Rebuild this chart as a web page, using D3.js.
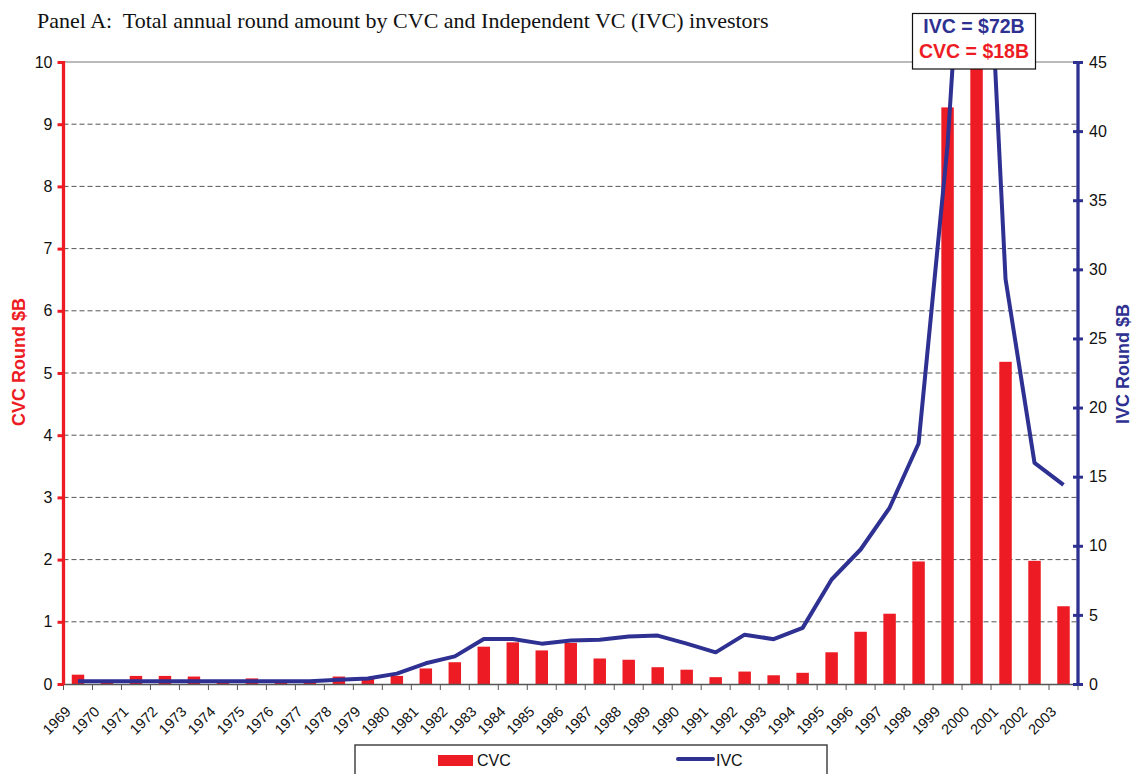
<!DOCTYPE html>
<html>
<head>
<meta charset="utf-8">
<script src="https://cdn.jsdelivr.net/npm/d3@7"></script>
<style>
  html, body { margin: 0; padding: 0; background: #fff; }
  svg { display: block; }
  text { white-space: pre; }
</style>
</head>
<body>
<svg id="chart" width="1134" height="774"></svg>
<script>
const years = ["1969","1970","1971","1972","1973","1974","1975","1976","1977","1978","1979","1980","1981","1982","1983","1984","1985","1986","1987","1988","1989","1990","1991","1992","1993","1994","1995","1996","1997","1998","1999","2000","2001","2002","2003"];
const cvcValues = [0.15,0.02,0.13,0.13,0.12,0.06,0.09,0.02,0.05,0.12,0.08,0.13,0.25,0.35,0.60,0.67,0.54,0.66,0.41,0.39,0.27,0.23,0.11,0.20,0.14,0.18,0.51,0.84,1.13,1.97,9.27,18,5.18,1.98,1.25];
const ivcValues = [0.2,0.2,0.2,0.2,0.2,0.2,0.2,0.2,0.2,0.3,0.4,0.75,1.5,2.0,3.26,3.26,2.92,3.14,3.2,3.43,3.5,2.92,2.29,3.57,3.24,4.06,7.56,9.73,12.75,17.4,39,72,29.3,16.0,14.4];
const cvcTicks = [0,1,2,3,4,5,6,7,8,9,10];
const ivcTicks = [0,5,10,15,20,25,30,35,40,45];
const titleText = "Panel A:  Total annual round amount by CVC and Independent VC (IVC) investors";
const noteLines = ["IVC = $72B", "CVC = $18B"];

const RED = "#ed1c24", NAVY = "#2e3192";
const SANS = "'Liberation Sans', Arial, sans-serif";
const L = 63.5, R = 1078, T = 62, B = 684;

const svg = d3.select("#chart");
const x = d3.scaleBand().domain(years).range([L, R]).paddingInner(0).paddingOuter(0);
const yL = d3.scaleLinear().domain([0, 10]).range([B, T]);
const yR = d3.scaleLinear().domain([0, 45]).range([B, T]);
const bw = x.bandwidth();

svg.append("defs").append("clipPath").attr("id", "plotclip")
  .append("rect").attr("x", L).attr("y", T).attr("width", R - L).attr("height", B - T);

// title
svg.append("text").attr("x", 37).attr("y", 28)
  .attr("font-family", "'Liberation Serif', 'Times New Roman', serif")
  .attr("font-size", 22).attr("fill", "#111").text(titleText);

// gridlines (dashed) + top solid
const gridG = svg.append("g");
gridG.selectAll("line.grid").data(cvcTicks.filter(t => t > 0 && t < 10)).join("line")
  .attr("x1", L).attr("x2", R).attr("y1", d => yL(d)).attr("y2", d => yL(d))
  .attr("stroke", "#555").attr("stroke-width", 1).attr("stroke-dasharray", "5,3");
gridG.append("line").attr("x1", L).attr("x2", R).attr("y1", yL(10)).attr("y2", yL(10))
  .attr("stroke", "#777").attr("stroke-width", 1.2);

// bars
const barW = bw * 0.43;
svg.append("g").attr("clip-path", "url(#plotclip)")
  .selectAll("rect").data(years).join("rect")
  .attr("x", (d) => x(d) + bw / 2 - barW / 2)
  .attr("width", barW)
  .attr("y", (d, i) => yL(Math.min(cvcValues[i], 10.5)))
  .attr("height", (d, i) => B - yL(Math.min(cvcValues[i], 10.5)))
  .attr("fill", RED);

// x axis baseline and ticks
const xAxis = d3.axisBottom(x).tickSize(0).tickFormat("");
const xg = svg.append("g").attr("transform", `translate(0,${B})`).call(xAxis);
xg.select(".domain").attr("stroke", "#555").attr("stroke-width", 1.5);
const bounds = years.map(y => x(y)).concat([R]);
svg.append("g").selectAll("line").data(bounds).join("line")
  .attr("x1", d => d).attr("x2", d => d).attr("y1", B).attr("y2", B + 6)
  .attr("stroke", "#555").attr("stroke-width", 1);
svg.append("g").selectAll("text").data(years).join("text")
  .attr("transform", d => `translate(${x(d) + bw / 2 - 10},${B + 25}) rotate(-45)`)
  .attr("text-anchor", "end").attr("dy", "0.35em")
  .attr("font-family", SANS).attr("font-size", 14.5)
  .attr("fill", "#111").text(d => d);

// IVC line
const line = d3.line().x((d, i) => x(years[i]) + bw / 2).y(d => yR(d));
svg.append("path").datum(ivcValues).attr("clip-path", "url(#plotclip)")
  .attr("d", line).attr("fill", "none").attr("stroke", NAVY)
  .attr("stroke-width", 4).attr("stroke-linejoin", "round");

// left axis
const yLAxis = d3.axisLeft(yL).tickValues(cvcTicks).tickSize(6).tickPadding(5).tickFormat(d3.format("d"));
const lg = svg.append("g").attr("transform", `translate(${L},0)`).call(yLAxis);
lg.select(".domain").remove();
lg.selectAll(".tick line").attr("stroke", RED).attr("stroke-width", 3);
lg.selectAll(".tick text").attr("font-family", SANS)
  .attr("font-size", 16).attr("fill", "#111");
svg.append("line").attr("x1", L).attr("x2", L).attr("y1", T - 1).attr("y2", B + 1)
  .attr("stroke", RED).attr("stroke-width", 3.3);

// right axis
const yRAxis = d3.axisRight(yR).tickValues(ivcTicks).tickSize(5).tickPadding(6);
const rg = svg.append("g").attr("transform", `translate(${R},0)`).call(yRAxis);
rg.select(".domain").remove();
rg.selectAll(".tick line").attr("x1", -5).attr("x2", 5).attr("stroke", NAVY).attr("stroke-width", 3);
rg.selectAll(".tick text").attr("font-family", SANS)
  .attr("font-size", 16).attr("fill", "#111");
svg.append("line").attr("x1", R).attr("x2", R).attr("y1", T - 1).attr("y2", B + 1)
  .attr("stroke", NAVY).attr("stroke-width", 3.3);

// axis titles
svg.append("text").attr("transform", `translate(25,362) rotate(-90)`)
  .attr("text-anchor", "middle").attr("font-family", SANS)
  .attr("font-weight", "bold").attr("font-size", 18).attr("fill", RED).text("CVC Round $B");
svg.append("text").attr("transform", `translate(1129,364) rotate(-90)`)
  .attr("text-anchor", "middle").attr("font-family", SANS)
  .attr("font-weight", "bold").attr("font-size", 18).attr("fill", NAVY).text("IVC Round $B");

// annotation box
svg.append("rect").attr("x", 912.5).attr("y", 13.5).attr("width", 123).attr("height", 55.5)
  .attr("fill", "#fff").attr("stroke", "#111").attr("stroke-width", 1.2);
svg.append("text").attr("x", 974).attr("y", 33).attr("text-anchor", "middle")
  .attr("font-family", SANS).attr("font-weight", "bold")
  .attr("font-size", 19.5).attr("fill", NAVY).text(noteLines[0]);
svg.append("text").attr("x", 974).attr("y", 58).attr("text-anchor", "middle")
  .attr("font-family", SANS).attr("font-weight", "bold")
  .attr("font-size", 19.5).attr("fill", RED).text(noteLines[1]);

// legend
svg.append("rect").attr("x", 355).attr("y", 745).attr("width", 472).attr("height", 40)
  .attr("fill", "#fff").attr("stroke", "#444").attr("stroke-width", 1.5);
svg.append("rect").attr("x", 438).attr("y", 755).attr("width", 35).attr("height", 11).attr("fill", RED);
svg.append("text").attr("x", 477).attr("y", 766)
  .attr("font-family", SANS).attr("font-size", 16)
  .attr("fill", "#111").text("CVC");
svg.append("line").attr("x1", 678).attr("x2", 713).attr("y1", 759).attr("y2", 759)
  .attr("stroke", NAVY).attr("stroke-width", 4).attr("stroke-linecap", "round");
svg.append("text").attr("x", 716).attr("y", 766)
  .attr("font-family", SANS).attr("font-size", 16)
  .attr("fill", "#111").text("IVC");
</script>
</body>
</html>
